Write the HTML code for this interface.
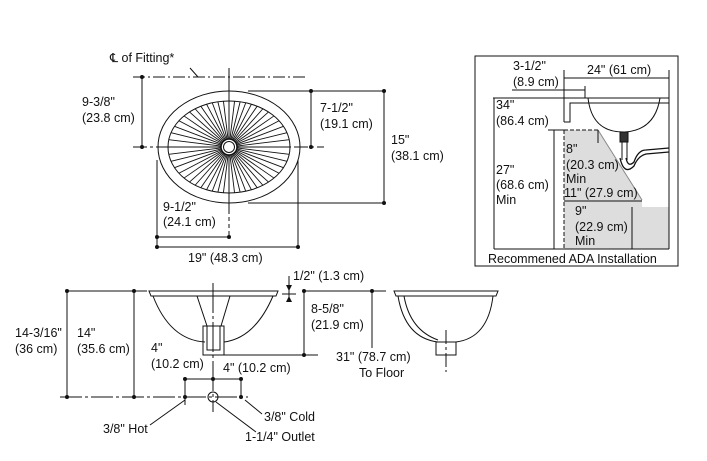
<!DOCTYPE html>
<html><head><meta charset="utf-8"><style>
body{margin:0;background:#fff}
svg{display:block}
text{font-family:"Liberation Sans",sans-serif;font-size:12.5px;fill:#111}
</style></head><body>
<svg id="s" width="707" height="461" viewBox="0 0 707 461" stroke="#111" fill="none" stroke-width="1">
<!-- TOP VIEW -->
<line x1="133" y1="77" x2="307" y2="77" stroke-dasharray="12,3,2,3"/>
<line x1="190" y1="68" x2="198" y2="77"/>
<text x="110" y="62" stroke="none">℄ of Fitting*</text>
<line x1="229" y1="68" x2="229" y2="210"/>
<line x1="229" y1="210" x2="229" y2="237" stroke-dasharray="4,3"/>
<line x1="133" y1="147" x2="324" y2="147" stroke-dasharray="14,3,3,3"/>
<ellipse cx="229" cy="147" rx="71" ry="56"/>
<ellipse cx="229" cy="147" rx="61" ry="46"/>
<g id="rays"></g>
<circle cx="229" cy="147" r="8" fill="#fff" stroke-width="1.5"/>
<circle cx="229" cy="147" r="5.5"/>
<line x1="142" y1="77" x2="142" y2="147"/>
<line x1="311" y1="91" x2="311" y2="147"/>
<line x1="248" y1="91" x2="386" y2="91"/>
<line x1="248" y1="203" x2="386" y2="203"/>
<line x1="384" y1="91" x2="384" y2="203"/>
<line x1="157" y1="160" x2="157" y2="248"/>
<line x1="298" y1="160" x2="298" y2="248"/>
<line x1="157" y1="237" x2="229" y2="237"/>
<line x1="157" y1="247" x2="298" y2="247"/>
<g fill="#111" stroke="none">
<circle cx="142" cy="77" r="2"/><circle cx="142" cy="147" r="2"/>
<circle cx="311" cy="91" r="2"/><circle cx="311" cy="147" r="2"/>
<circle cx="384" cy="91" r="2"/><circle cx="384" cy="203" r="2"/>
<circle cx="157" cy="237" r="2"/><circle cx="229" cy="237" r="2"/>
<circle cx="157" cy="247" r="2"/><circle cx="298" cy="247" r="2"/>
</g>
<g stroke="none">
<text x="82" y="106">9-3/8"</text><text x="82" y="122">(23.8 cm)</text>
<text x="320" y="112">7-1/2"</text><text x="320" y="128">(19.1 cm)</text>
<text x="391" y="144">15"</text><text x="391" y="160">(38.1 cm)</text>
<text x="163" y="211">9-1/2"</text><text x="163" y="226">(24.1 cm)</text>
<text x="188" y="262">19" (48.3 cm)</text>
</g>

<!-- ADA BOX -->
<rect x="475" y="56" width="203" height="210"/>
<polygon points="564,130 598,130 642,200 642,207 669,207 669,249 564,249" fill="#ddd" stroke="none"/>
<line x1="564" y1="130" x2="564" y2="249" stroke-dasharray="4,2"/>
<line x1="564" y1="130" x2="598" y2="130" stroke-dasharray="4,2"/>
<line x1="598" y1="130" x2="642" y2="200" stroke="#888"/>
<line x1="564" y1="70" x2="564" y2="122"/>
<line x1="669" y1="70" x2="669" y2="249"/>
<line x1="564" y1="78" x2="669" y2="78"/>
<line x1="512" y1="90" x2="585" y2="90"/>
<line x1="585" y1="86" x2="585" y2="98"/>
<line x1="493" y1="98" x2="669" y2="98"/>
<polyline points="669,103 570,103 570,122 564,122"/>
<path d="M588,98 Q592,133 625,132 Q655,130 660,98"/>
<rect x="620" y="132" width="8" height="10" fill="#333"/>
<line x1="622" y1="142" x2="622" y2="160"/><line x1="627" y1="142" x2="627" y2="160"/>
<path d="M620,158 q4,18 14,8 q4,-10 12,-12 L669,152" stroke-width="1.3"/><path d="M626,158 q2,10 8,4 q4,-12 12,-12 L669,148" stroke-width="1.3"/>
<line x1="494" y1="98" x2="494" y2="249"/>
<line x1="554" y1="130" x2="554" y2="249"/>
<line x1="548" y1="130" x2="564" y2="130"/>
<line x1="598" y1="130" x2="598" y2="143"/>
<line x1="564" y1="201" x2="642" y2="201"/>
<line x1="632" y1="207" x2="632" y2="249"/>
<line x1="494" y1="249" x2="669" y2="249"/>
<g stroke="none">
<text x="513" y="70">3-1/2"</text><text x="513" y="86">(8.9 cm)</text>
<text x="587" y="74">24" (61 cm)</text>
<text x="496" y="109">34"</text><text x="496" y="125">(86.4 cm)</text>
<text x="496" y="174">27"</text><text x="496" y="189">(68.6 cm)</text><text x="496" y="204">Min</text>
<text x="566" y="153">8"</text><text x="566" y="169">(20.3 cm)</text><text x="566" y="183">Min</text>
<text x="564" y="197">11" (27.9 cm)</text>
<text x="575" y="215">9"</text><text x="575" y="231">(22.9 cm)</text><text x="575" y="245">Min</text>
<text x="488" y="263">Recommened ADA Installation</text>
</g>

<!-- FRONT VIEW -->
<line x1="68" y1="291" x2="147" y2="291"/>
<line x1="305" y1="291" x2="386" y2="291"/>
<path d="M149,291 L278,291 L276,296 L151,296 Z"/>
<path d="M153,296 Q170,340 205,342 M224,342 Q255,338 273,296"/>
<path d="M197,296 L207,326 M230,296 L221,326"/>
<rect x="203" y="326" width="21" height="29"/>
<rect x="207" y="326" width="13" height="24"/>
<line x1="67" y1="291" x2="67" y2="397"/>
<line x1="134" y1="291" x2="134" y2="397"/>
<line x1="213" y1="283" x2="213" y2="412" stroke-dasharray="30,3,3,3"/>
<line x1="60" y1="397" x2="248" y2="397" stroke-dasharray="22,3,3,3"/>
<line x1="185" y1="379" x2="241" y2="379"/>
<line x1="185" y1="379" x2="185" y2="405"/><line x1="241" y1="379" x2="241" y2="397"/>
<circle cx="213" cy="397" r="5"/>
<line x1="289" y1="276" x2="289" y2="302"/>
<line x1="282" y1="294" x2="296" y2="294"/>
<line x1="304" y1="291" x2="304" y2="355"/>
<line x1="224" y1="355" x2="318" y2="355"/>
<line x1="372" y1="291" x2="372" y2="348"/>
<line x1="185" y1="400" x2="150" y2="425"/>
<line x1="216" y1="402" x2="256" y2="432"/>
<line x1="245" y1="400" x2="262" y2="414"/>
<g fill="#111" stroke="none">
<circle cx="67" cy="291" r="2"/><circle cx="67" cy="397" r="2"/>
<circle cx="134" cy="291" r="2"/><circle cx="134" cy="397" r="2"/>
<circle cx="185" cy="379" r="2"/><circle cx="213" cy="379" r="2"/><circle cx="241" cy="379" r="2"/>
<circle cx="185" cy="397" r="2"/><circle cx="241" cy="397" r="2"/>
<circle cx="304" cy="291" r="2"/><circle cx="304" cy="355" r="2"/><circle cx="372" cy="291" r="2"/>
<polygon points="289,291 286,285 292,285"/><polygon points="289,296 286,302 292,302"/>
</g>
<g stroke="none">
<text x="293" y="280">1/2" (1.3 cm)</text>
<text x="15" y="337">14-3/16"</text><text x="15" y="353">(36 cm)</text>
<text x="77" y="337">14"</text><text x="77" y="353">(35.6 cm)</text>
<text x="151" y="352">4"</text><text x="151" y="368">(10.2 cm)</text>
<text x="223" y="372">4" (10.2 cm)</text>
<text x="311" y="313">8-5/8"</text><text x="311" y="329">(21.9 cm)</text>
<text x="336" y="361">31" (78.7 cm)</text><text x="359" y="377">To Floor</text>
<text x="103" y="433">3/8" Hot</text>
<text x="245" y="441">1-1/4" Outlet</text>
<text x="264" y="421">3/8" Cold</text>
</g>
<!-- SIDE VIEW -->
<path d="M394,291 L498,291 L496,296 L396,296 Z"/>
<path d="M398,296 Q405,338 438,342 M456,342 Q488,338 493,296"/>
<path d="M404,296 Q410,330 438,340"/>
<rect x="436" y="342" width="20" height="13"/>
<line x1="446" y1="330" x2="446" y2="372" stroke-dasharray="14,3,3,3"/>
</svg>
<script>
var g=document.getElementById('rays'),n=52,s='';
for(var i=0;i<n;i++){var a=i*2*Math.PI/n,c=Math.cos(a),si=Math.sin(a);
var t=1/Math.sqrt((c*c)/(61*61)+(si*si)/(46*46));
s+='<line x1="'+(229+8*c)+'" y1="'+(147+8*si)+'" x2="'+(229+t*c)+'" y2="'+(147+t*si)+'" stroke="#111" stroke-width="0.9"/>';}
g.innerHTML=s;
</script>
</body></html>
